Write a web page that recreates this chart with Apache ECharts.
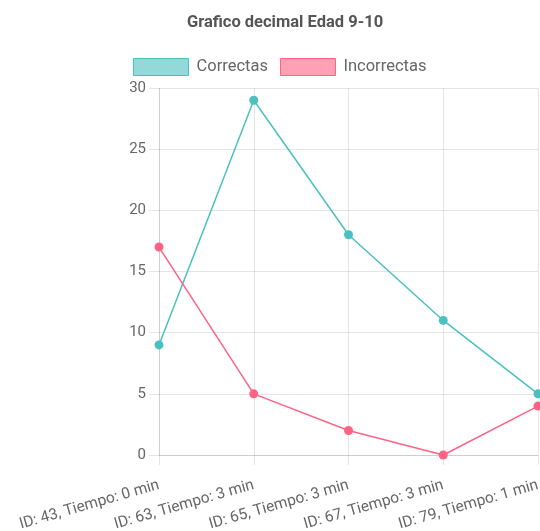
<!DOCTYPE html>
<html>
<head>
<meta charset="utf-8">
<script src="https://cdn.jsdelivr.net/npm/echarts@6/dist/echarts.min.js"></script>
<style>
  html, body { margin: 0; padding: 0; background: #fff; }
  #chart { width: 540px; height: 531px; }
</style>
</head>
<body>
<div id="chart"></div>
<script>
const categories = [
  'ID: 43, Tiempo: 0 min',
  'ID: 63, Tiempo: 3 min',
  'ID: 65, Tiempo: 3 min',
  'ID: 67, Tiempo: 3 min',
  'ID: 79, Tiempo: 1 min'
];
const correctas = [9, 29, 18, 11, 5];
const incorrectas = [17, 5, 2, 0, 4];
const yTicks = { min: 0, max: 30, step: 5 };

const teal = 'rgb(75,192,192)';
const pink = 'rgb(255,99,132)';
const gridColor = 'rgba(0,0,0,0.1)';
const labelColor = '#666';
const font = 'Roboto';

const chart = echarts.init(document.getElementById('chart'));
chart.setOption({
  animation: false,
  textStyle: { fontFamily: font },
  title: {
    text: 'Grafico decimal Edad 9-10',
    left: 280, textAlign: 'center', top: 9,
    textStyle: { fontSize: 16.5, fontWeight: 'bold', color: '#555', fontFamily: font }
  },
  legend: {
    top: 53, left: 128,
    icon: 'rect', itemWidth: 55, itemHeight: 17, itemGap: 12,
    textStyle: { fontSize: 16.5, color: labelColor, fontFamily: font, padding: [0, 0, 0, 3] },
    data: [
      { name: 'Correctas', itemStyle: { color: 'rgba(75,192,192,0.6)', borderColor: teal, borderWidth: 1 } },
      { name: 'Incorrectas', itemStyle: { color: 'rgba(255,99,132,0.6)', borderColor: pink, borderWidth: 1 } }
    ]
  },
  grid: { left: 159, right: 2, top: 88, bottom: 76, outerBoundsMode: 'none', containLabel: false },
  xAxis: {
    type: 'category',
    data: categories,
    boundaryGap: false,
    axisLine: { show: true, lineStyle: { color: gridColor } },
    axisTick: { show: true, length: 10, lineStyle: { color: gridColor } },
    splitLine: { show: true, lineStyle: { color: gridColor } },
    axisLabel: { rotate: 16, color: labelColor, fontSize: 15.5, margin: 30, fontFamily: font, hideOverlap: false }
  },
  yAxis: {
    type: 'value',
    min: yTicks.min, max: yTicks.max, interval: yTicks.step,
    axisLine: { show: true, lineStyle: { color: gridColor } },
    axisTick: { show: true, length: 10, lineStyle: { color: gridColor } },
    splitLine: { show: true, lineStyle: { color: gridColor } },
    axisLabel: { color: labelColor, fontSize: 15, margin: 13, fontFamily: font }
  },
  series: [
    {
      name: 'Correctas', type: 'line', data: correctas,
      symbol: 'circle', symbolSize: 9,
      lineStyle: { color: teal, width: 1.5 },
      itemStyle: { color: teal }
    },
    {
      name: 'Incorrectas', type: 'line', data: incorrectas,
      symbol: 'circle', symbolSize: 9,
      lineStyle: { color: pink, width: 1.5 },
      itemStyle: { color: pink }
    }
  ]
});
</script>
</body>
</html>
